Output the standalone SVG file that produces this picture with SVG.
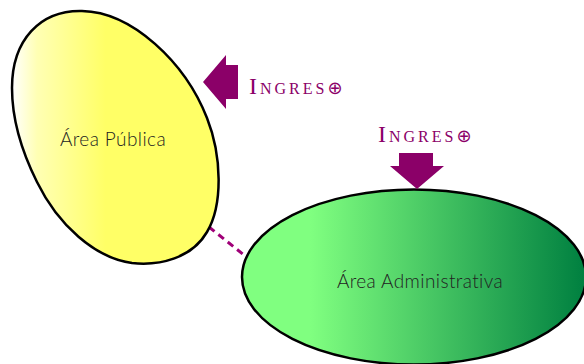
<svg xmlns="http://www.w3.org/2000/svg" width="584" height="364" viewBox="0 0 584 364">
<style>
.shape{stroke:#000;stroke-width:2.5}
.lbl{font-family:"Lato","Liberation Sans",sans-serif;font-size:19px;font-weight:300;fill:#222;letter-spacing:.4px}
.ing{font-family:"Liberation Serif",serif;font-size:16px;fill:#8b0068;letter-spacing:3px}
.cap{font-size:24px}
.arrow{fill:#8b0068}
</style>
<defs>
<linearGradient id="y" gradientUnits="userSpaceOnUse" x1="12" y1="0" x2="220" y2="0">
<stop offset="0" stop-color="#fff"/><stop offset="0.12" stop-color="#ffffb4"/><stop offset="0.45" stop-color="#ffff66"/><stop offset="1" stop-color="#ffff66"/>
</linearGradient>
<linearGradient id="g" gradientUnits="userSpaceOnUse" x1="242" y1="0" x2="584" y2="0">
<stop offset="0" stop-color="#80ff80"/><stop offset="0.2" stop-color="#80ff80"/><stop offset="1" stop-color="#008040"/>
</linearGradient>
</defs>
<g id="connectors">
<line x1="209" y1="227" x2="244" y2="255" stroke="#a00078" stroke-width="3" stroke-dasharray="7 5"/>
</g>
<g id="area-publica">
<path class="shape" fill="url(#y)" d="M12 88C12 40 40 10 82 11C132 12 185 62 207 118C222 156 223 205 207 232C192 258 160 266 132 263C95 258 58 225 37 182C22 152 12 120 12 88Z"/>
<text class="lbl" x="113" y="146" text-anchor="middle">Área Pública</text>
</g>
<g id="area-administrativa">
<ellipse class="shape" cx="414" cy="277" rx="172" ry="87.500" fill="url(#g)"/>
<text class="lbl" x="420" y="288" text-anchor="middle">Área Administrativa</text>
</g>
<g id="ingreso-publica">
<polygon class="arrow" points="203,82 226,55 226,65 238,65 238,99 226,99 226,109"/>
<text class="ing" x="249" y="94"><tspan class="cap">I</tspan>NGRES<tspan font-family="DejaVu Sans" font-size="18">⊕</tspan></text>
</g>
<g id="ingreso-administrativa">
<polygon class="arrow" points="417,189 390,166 399,166 399,153 433,153 433,166 444,166"/>
<text class="ing" x="378" y="142"><tspan class="cap">I</tspan>NGRES<tspan font-family="DejaVu Sans" font-size="18">⊕</tspan></text>
</g>
</svg>
